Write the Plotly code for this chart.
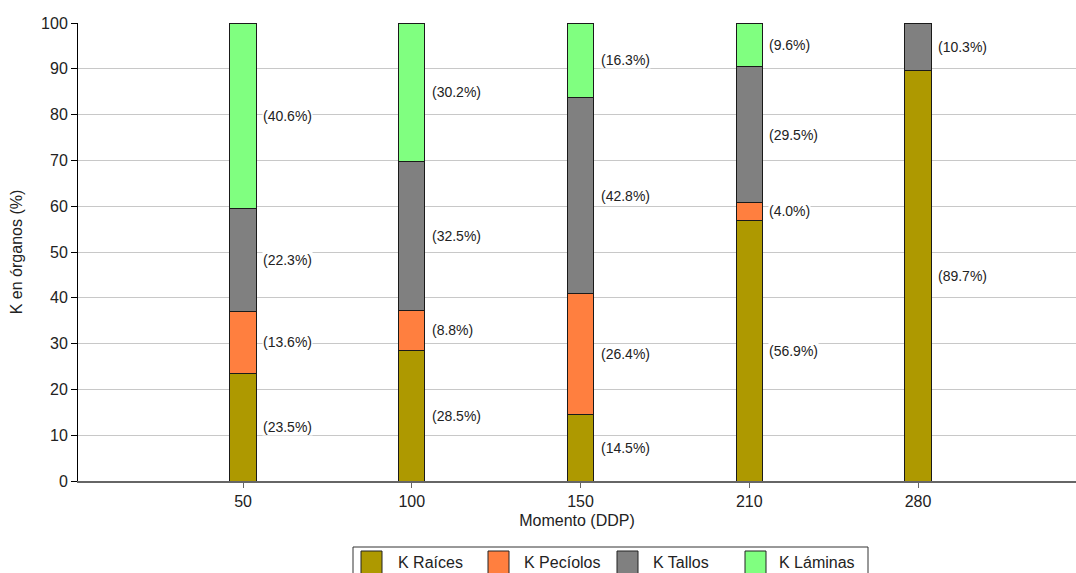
import plotly.graph_objects as go

# Potassium distribution among plant organs at each sampling moment
momentos = ["50", "100", "150", "210", "280"]
series = ["K Raíces", "K Pecíolos", "K Tallos", "K Láminas"]
raices = [23.5, 28.5, 14.5, 56.9, 89.7]
peciolos = [13.6, 8.8, 26.4, 4.0, 0.0]
tallos = [22.3, 32.5, 42.8, 29.5, 10.3]
laminas = [40.6, 30.2, 16.3, 9.6, 0.0]
colores = ["#ae9900", "#ff7f3f", "#808080", "#80ff80"]

valores = [raices, peciolos, tallos, laminas]

fig = go.Figure()
for nombre, vals, col in zip(series, valores, colores):
    fig.add_trace(go.Bar(
        x=momentos, y=vals, name=nombre, width=0.155,
        marker=dict(color=col, line=dict(color="#1a1a1a", width=1)),
        showlegend=False,
    ))

# Percentage labels placed at each segment's midpoint, right of the bar
base = [0.0] * len(momentos)
for vals in valores:
    for i, v in enumerate(vals):
        if v > 0:
            fig.add_annotation(
                x=i, y=base[i] + v / 2, text=f"({v:.1f}%)",
                xanchor="left", yanchor="middle", xshift=19, showarrow=False,
                bgcolor="white", borderpad=0,
                font=dict(family="Liberation Sans, Arial", size=14, color="#222"),
            )
        base[i] += v

# Boxed horizontal legend at the bottom
fig.add_shape(type="rect", xref="paper", yref="paper",
              x0=(353 - 78) / 998, x1=(868 - 78) / 998,
              y0=-(576 - 481) / 458, y1=-(547 - 481) / 458,
              line=dict(color="#333", width=1), fillcolor="white")
sw_x = [361, 488, 617, 745]
tx_x = [396, 522, 651, 777]
for nombre, col, sx, tx in zip(series, colores, sw_x, tx_x):
    fig.add_shape(type="rect", xref="paper", yref="paper",
                  x0=(sx - 78) / 998, x1=(sx + 21 - 78) / 998,
                  y0=-(576 - 481) / 458, y1=-(551 - 481) / 458,
                  line=dict(color="#222", width=1), fillcolor=col)
    fig.add_annotation(xref="paper", yref="paper",
                       x=(tx - 78) / 998, y=-(562 - 481) / 458,
                       text=nombre, showarrow=False, xanchor="left", yanchor="middle",
                       font=dict(family="Liberation Sans, Arial", size=16, color="#222"))

fig.update_layout(
    barmode="stack",
    width=1076, height=573,
    margin=dict(l=78, r=0, t=23, b=92),
    paper_bgcolor="white", plot_bgcolor="white",
    font=dict(family="Liberation Sans, Arial", size=16, color="#222"),
    xaxis=dict(
        type="category", range=[-0.978, 4.936],
        showline=True, linecolor="#666", linewidth=2,
        ticks="outside", ticklen=5, tickcolor="#666",
        showgrid=False,
        title=dict(text="Momento (DDP)", standoff=6, font=dict(size=16)),
        tickfont=dict(size=16),
    ),
    yaxis=dict(
        range=[0, 100], dtick=10, tick0=0,
        showline=True, linecolor="black", linewidth=1,
        ticks="outside", ticklen=6, tickcolor="black",
        showgrid=True, gridcolor="#c8c8c8", gridwidth=1,
        zeroline=False,
        title=dict(text="K en órganos (%)", standoff=14, font=dict(size=16)),
        tickfont=dict(size=16),
    ),
)

fig.write_html("out.html")
